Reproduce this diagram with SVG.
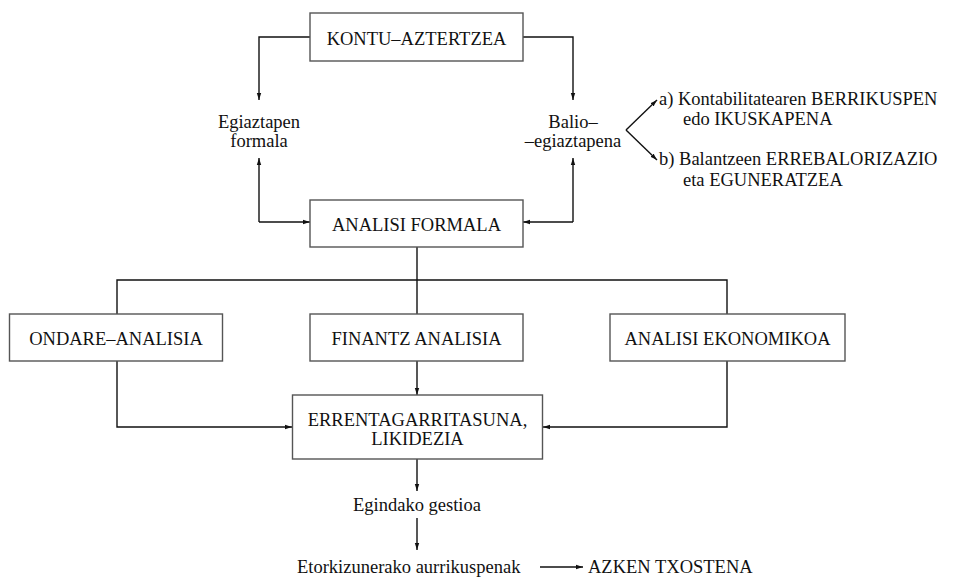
<svg xmlns="http://www.w3.org/2000/svg" width="959" height="577" viewBox="0 0 959 577">
<defs>
<marker id="ah" markerUnits="userSpaceOnUse" markerWidth="8" markerHeight="6" refX="7" refY="3" orient="auto">
<path d="M0,0.8 L7,3 L0,5.2 Z" fill="#111"/>
</marker>
</defs>
<style>
text{font-family:'Liberation Serif','DejaVu Serif',serif;font-size:18.5px;fill:#111}
.c{text-anchor:middle}
.box{fill:#fff;stroke:#555;stroke-width:1.4}
.ln{fill:none;stroke:#111;stroke-width:1.4}
.ar{fill:none;stroke:#111;stroke-width:1.4;marker-end:url(#ah)}
</style>
<rect width="959" height="577" fill="#fff"/>
<g id="connectors">
<polyline class="ar" points="310,37 259,37 259,100"/>
<polyline class="ar" points="523,37 573,37 573,100"/>
<polyline class="ar" points="259,222 259,158"/>
<polyline class="ar" points="259,222 310,222"/>
<polyline class="ar" points="573,222 573,158"/>
<polyline class="ar" points="573,222 523,222"/>
<polyline class="ar" points="626,130 657,100"/>
<polyline class="ar" points="626,130 657,160"/>
<polyline class="ln" points="417,247 417,314"/>
<polyline class="ln" points="117,314 117,280 727,280 727,314"/>
<polyline class="ar" points="117,361 117,427 292,427"/>
<polyline class="ar" points="417,361 417,395"/>
<polyline class="ar" points="727,361 727,427 543,427"/>
<polyline class="ar" points="417,459 417,491"/>
<polyline class="ar" points="417,518 417,550"/>
<polyline class="ar" points="540,567 583,567"/>
</g>
<g font-family="Liberation Serif, serif">
<g id="kontu"><rect class="box" x="310" y="13" width="213" height="48"/><text class="c" x="416.5" y="45">KONTU–AZTERTZEA</text></g>
<g id="egiaztapen"><text class="c" x="259" y="128">Egiaztapen</text><text class="c" x="259" y="147">formala</text></g>
<g id="balio"><text class="c" x="573" y="128">Balio–</text><text class="c" x="573" y="147">–egiaztapena</text></g>
<g id="opt-a"><text x="659" y="105">a) Kontabilitatearen BERRIKUSPEN</text><text x="683" y="125">edo IKUSKAPENA</text></g>
<g id="opt-b"><text x="659" y="165">b) Balantzeen ERREBALORIZAZIO</text><text x="683" y="186">eta EGUNERATZEA</text></g>
<g id="analisi-formala"><rect class="box" x="310" y="200" width="213" height="47"/><text class="c" x="416.5" y="231">ANALISI FORMALA</text></g>
<g id="ondare"><rect class="box" x="9.5" y="314" width="213" height="47"/><text class="c" x="116" y="345">ONDARE–ANALISIA</text></g>
<g id="finantz"><rect class="box" x="310" y="314" width="213" height="47"/><text class="c" x="416.5" y="345">FINANTZ ANALISIA</text></g>
<g id="ekonomikoa"><rect class="box" x="610" y="314" width="235" height="47"/><text class="c" x="727.5" y="345">ANALISI EKONOMIKOA</text></g>
<g id="errentagarritasuna"><rect class="box" x="292.5" y="395" width="250" height="64"/><text class="c" x="417.5" y="426">ERRENTAGARRITASUNA,</text><text class="c" x="417.5" y="445">LIKIDEZIA</text></g>
<g id="gestioa"><text class="c" x="417" y="511">Egindako gestioa</text></g>
<g id="etorkizunerako"><text x="297" y="573">Etorkizunerako aurrikuspenak</text></g>
<g id="txostena"><text x="588" y="573">AZKEN TXOSTENA</text></g>
</g>
</svg>
